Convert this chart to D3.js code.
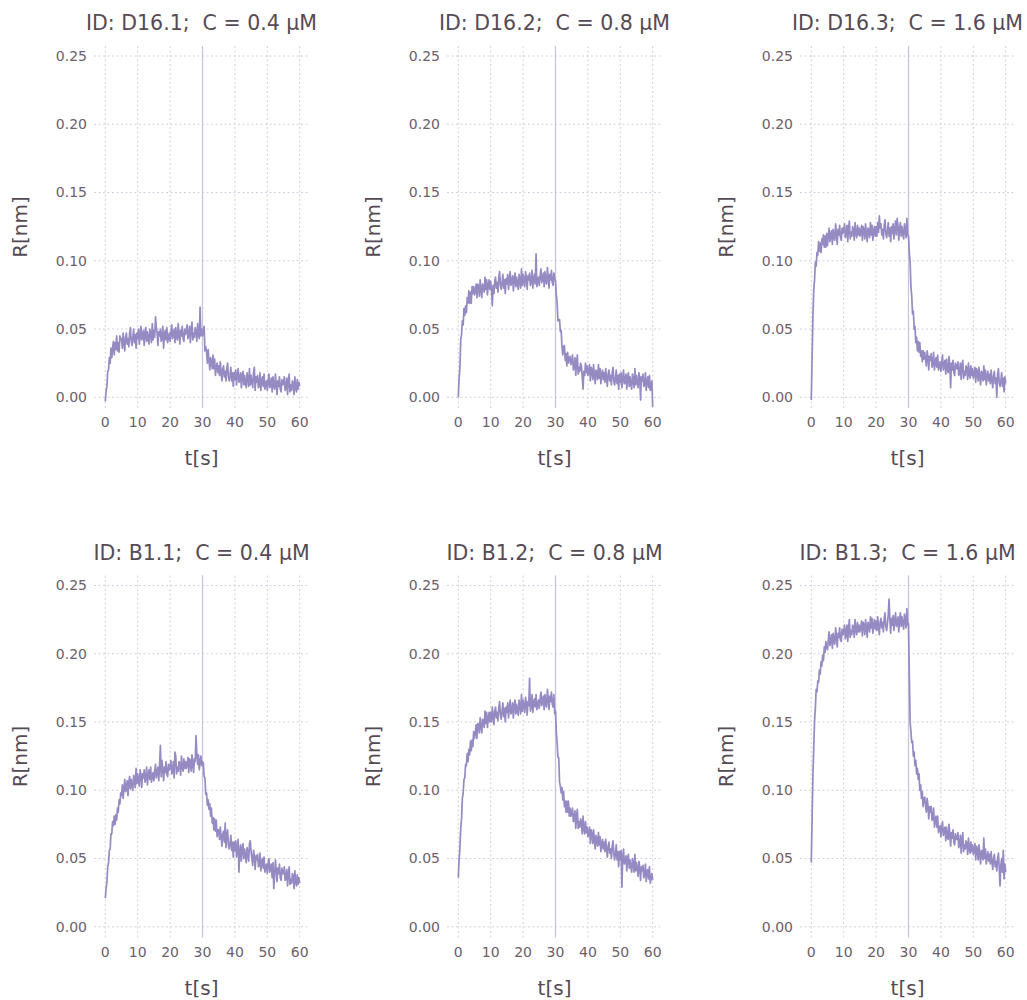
<!DOCTYPE html>
<html>
<head>
<meta charset="utf-8">
<script src="https://d3js.org/d3.v7.min.js"></script>
<title>binding curves</title>
<style>
  body { margin: 0; background: #fff; }
  text { font-family: "DejaVu Sans", sans-serif; }
</style>
</head>
<body>
<div id="chart"></div>
<script>
// panel labels
const ids = ["D16.1", "D16.2", "D16.3", "B1.1", "B1.2", "B1.3"];
const concs = ["0.4", "0.8", "1.6", "0.4", "0.8", "1.6"];
const xTicks = [0, 10, 20, 30, 40, 50, 60];
const yTicks = [0, 0.05, 0.10, 0.15, 0.20, 0.25];
const yTickLabels = ["0.00", "0.05", "0.10", "0.15", "0.20", "0.25"];
const switchTime = 30;

// sampling times, 0..60 s every 0.25 s
const time = d3.range(0, 60.001, 0.25);

// response in 1e-3 nm (one row = 5 s)
const rD161 = [
  -3, 5, 8, 19, 20, 29, 25, 36, 29, 36, 41, 31, 40, 35, 45, 34, 40, 33, 45, 42,
  43, 36, 47, 40, 34, 44, 47, 39, 43, 37, 47, 51, 41, 38, 44, 50, 40, 46, 36, 47,
  43, 50, 39, 46, 52, 42, 44, 49, 38, 47, 51, 41, 48, 43, 39, 50, 46, 40, 54, 42,
  49, 44, 59, 51, 47, 38, 48, 45, 50, 41, 43, 52, 36, 46, 49, 42, 51, 40, 44, 47,
  41, 48, 53, 43, 46, 50, 40, 51, 44, 42, 54, 47, 39, 49, 45, 52, 43, 41, 50, 46,
  48, 53, 43, 45, 52, 40, 50, 55, 42, 47, 44, 51, 49, 41, 54, 46, 43, 66, 45, 50,
  45, 49, 52, 34, 37, 33, 25, 35, 27, 20, 29, 26, 21, 31, 21, 28, 16, 22, 25, 18,
  23, 16, 26, 18, 12, 21, 23, 15, 19, 12, 21, 25, 15, 12, 16, 22, 12, 18, 8, 18,
  13, 20, 9, 16, 21, 11, 13, 18, 7, 16, 19, 9, 16, 11, 7, 18, 14, 8, 21, 9,
  16, 11, 7, 18, 22, 5, 15, 11, 16, 7, 9, 18, 5, 12, 15, 8, 17, 6, 9, 12,
  5, 12, 17, 7, 10, 14, 4, 15, 8, 6, 17, 10, 2, 12, 8, 15, 6, 4, 13, 9,
  10, 15, 5, 7, 14, 2, 12, 17, 4, 9, 5, 12, 10, 2, 15, 7, 4, 13, 6, 11,
  8
];
const rD162 = [
  0, 14, 22, 42, 46, 56, 53, 65, 60, 67, 62, 73, 69, 78, 69, 77, 69, 81, 76, 81,
  75, 78, 83, 73, 83, 81, 74, 86, 79, 73, 83, 81, 77, 88, 79, 86, 75, 82, 86, 79,
  85, 78, 67, 82, 76, 85, 88, 80, 84, 77, 88, 92, 82, 79, 84, 90, 80, 86, 76, 87,
  83, 90, 79, 86, 92, 82, 84, 89, 78, 87, 91, 81, 88, 83, 79, 90, 86, 80, 94, 82,
  90, 85, 81, 92, 88, 79, 89, 86, 91, 82, 84, 93, 80, 87, 90, 83, 105, 81, 85, 88,
  82, 89, 94, 84, 87, 91, 81, 92, 85, 83, 95, 88, 80, 90, 86, 93, 84, 82, 91, 87,
  85, 75, 69, 56, 57, 57, 48, 49, 37, 31, 37, 38, 27, 32, 23, 33, 25, 28, 30, 24,
  26, 31, 20, 22, 29, 16, 26, 31, 17, 22, 19, 25, 23, 15, 6, 19, 16, 25, 18, 23,
  16, 19, 24, 12, 22, 20, 13, 24, 16, 10, 20, 18, 13, 24, 14, 21, 10, 16, 20, 13,
  18, 11, 21, 14, 8, 17, 20, 12, 16, 9, 18, 22, 12, 9, 14, 20, 10, 16, 6, 17,
  11, 18, 7, 14, 20, 10, 12, 17, 6, 15, 18, 8, 15, 10, 6, 17, 13, 7, 21, 9,
  16, 11, 7, 18, 14, -2, 15, 12, 17, 8, 9, 18, 5, 12, 15, 7, 16, 5, 9, 12,
  -7
];
const rD163 = [
  -2, 30, 59, 78, 86, 99, 96, 106, 104, 114, 107, 113, 106, 116, 112, 119, 110, 118, 110, 120,
  111, 119, 124, 114, 118, 122, 112, 123, 117, 115, 127, 120, 112, 123, 119, 126, 117, 115, 124, 120,
  122, 127, 117, 119, 126, 114, 124, 129, 116, 121, 118, 125, 123, 115, 128, 120, 117, 126, 119, 124,
  118, 121, 126, 115, 125, 123, 116, 127, 120, 114, 124, 122, 117, 128, 119, 126, 115, 121, 125, 118,
  125, 118, 128, 121, 133, 124, 127, 119, 123, 116, 126, 130, 120, 117, 122, 128, 118, 124, 114, 125,
  120, 127, 116, 123, 129, 119, 131, 126, 115, 124, 128, 118, 125, 120, 116, 127, 123, 117, 131, 119,
  118, 106, 99, 81, 74, 61, 63, 50, 52, 40, 44, 34, 41, 33, 40, 30, 34, 26, 34, 28,
  33, 28, 23, 34, 30, 20, 30, 27, 32, 22, 24, 33, 20, 26, 29, 22, 31, 20, 23, 26,
  19, 26, 31, 20, 23, 27, 17, 28, 20, 18, 30, 23, 7, 25, 20, 27, 18, 16, 25, 21,
  21, 26, 16, 18, 25, 13, 23, 27, 14, 19, 16, 23, 21, 13, 25, 17, 14, 23, 16, 21,
  14, 17, 22, 11, 21, 19, 12, 22, 15, 9, 19, 17, 12, 23, 13, 20, 9, 15, 19, 12,
  17, 10, 20, 13, 7, 16, 19, 10, 14, 0, 17, 21, 11, 8, 12, 18, 8, 14, 4, 15,
  10
];
const rB11 = [
  21, 28, 33, 44, 47, 56, 57, 68, 68, 77, 74, 81, 75, 82, 78, 87, 84, 93, 90, 98,
  96, 104, 94, 101, 108, 99, 101, 107, 96, 106, 110, 101, 108, 104, 100, 111, 108, 102, 116, 105,
  112, 107, 103, 115, 111, 102, 112, 109, 115, 106, 108, 117, 104, 111, 115, 108, 117, 106, 110, 113,
  107, 114, 119, 109, 113, 117, 107, 118, 133, 110, 122, 115, 107, 117, 113, 121, 112, 110, 119, 115,
  117, 122, 112, 114, 121, 109, 128, 125, 112, 117, 114, 121, 119, 111, 125, 117, 114, 123, 116, 121,
  116, 119, 124, 113, 123, 121, 114, 126, 119, 113, 123, 121, 140, 127, 119, 126, 115, 121, 125, 118,
  121, 120, 110, 109, 97, 98, 89, 93, 86, 90, 81, 87, 76, 80, 71, 79, 70, 78, 66, 71,
  71, 64, 73, 66, 59, 68, 70, 62, 76, 58, 67, 71, 60, 57, 61, 67, 56, 62, 51, 62,
  56, 63, 51, 58, 64, 40, 55, 60, 48, 57, 61, 50, 57, 52, 47, 58, 54, 48, 61, 63,
  55, 50, 45, 56, 52, 42, 52, 49, 53, 44, 45, 54, 41, 47, 50, 43, 51, 40, 44, 46,
  39, 46, 50, 40, 43, 46, 36, 47, 28, 37, 49, 42, 33, 43, 39, 46, 36, 34, 43, 39,
  39, 44, 34, 35, 42, 30, 39, 44, 31, 35, 32, 39, 37, 28, 41, 33, 30, 38, 31, 36,
  32
];
const rB12 = [
  36, 49, 58, 72, 79, 94, 98, 108, 109, 119, 118, 127, 121, 130, 126, 136, 129, 137, 132, 143,
  138, 142, 148, 138, 149, 148, 142, 153, 147, 142, 152, 151, 146, 158, 149, 157, 146, 152, 157, 150,
  157, 150, 161, 154, 148, 158, 161, 153, 157, 151, 161, 165, 155, 152, 158, 164, 154, 160, 150, 161,
  157, 164, 153, 160, 166, 156, 158, 164, 153, 162, 166, 156, 163, 158, 155, 166, 162, 156, 170, 158,
  166, 161, 157, 168, 164, 155, 165, 162, 182, 158, 161, 170, 157, 164, 167, 161, 170, 159, 163, 166,
  160, 167, 172, 162, 165, 169, 159, 170, 163, 161, 174, 167, 159, 169, 165, 172, 163, 161, 170, 156,
  158, 143, 135, 124, 124, 106, 103, 98, 102, 93, 99, 88, 92, 84, 92, 84, 92, 81, 87, 81,
  83, 87, 77, 78, 85, 72, 81, 86, 72, 77, 73, 79, 77, 68, 81, 72, 68, 77, 69, 73,
  66, 68, 73, 61, 71, 68, 61, 71, 64, 57, 67, 64, 59, 69, 60, 66, 55, 60, 64, 57,
  62, 55, 64, 57, 51, 59, 62, 54, 57, 50, 59, 63, 53, 49, 54, 60, 49, 55, 44, 55,
  49, 56, 29, 51, 57, 46, 48, 52, 41, 50, 53, 43, 49, 44, 40, 50, 46, 40, 53, 41,
  47, 42, 37, 48, 44, 34, 44, 41, 45, 36, 38, 46, 33, 40, 42, 35, 44, 32, 36, 39,
  34
];
const rB13 = [
  47, 80, 111, 131, 151, 160, 174, 172, 180, 179, 188, 185, 194, 191, 199, 195, 205, 201, 209, 205,
  203, 210, 216, 206, 209, 214, 204, 215, 209, 207, 219, 213, 205, 215, 212, 219, 210, 209, 218, 214,
  216, 221, 211, 214, 221, 209, 219, 225, 212, 217, 214, 221, 220, 212, 225, 217, 214, 223, 216, 221,
  216, 219, 224, 213, 223, 221, 214, 225, 219, 212, 223, 221, 216, 227, 219, 226, 215, 221, 225, 218,
  224, 217, 227, 220, 214, 223, 226, 219, 223, 216, 226, 230, 220, 217, 222, 229, 240, 225, 215, 226,
  221, 228, 217, 224, 230, 220, 222, 227, 216, 225, 230, 220, 227, 222, 218, 229, 225, 219, 233, 221,
  222, 185, 150, 143, 135, 136, 125, 128, 118, 122, 112, 116, 108, 112, 100, 104, 94, 99, 88, 94,
  95, 89, 84, 94, 89, 79, 88, 84, 88, 78, 79, 87, 73, 79, 81, 73, 81, 69, 72, 74,
  66, 73, 77, 67, 70, 73, 63, 73, 66, 64, 75, 68, 59, 69, 65, 71, 62, 60, 68, 64,
  64, 69, 58, 60, 67, 54, 64, 69, 55, 60, 57, 63, 61, 53, 65, 57, 54, 62, 55, 60,
  53, 56, 61, 49, 59, 57, 49, 60, 53, 46, 56, 54, 49, 65, 50, 57, 46, 51, 55, 48,
  53, 46, 55, 48, 42, 50, 53, 44, 48, 41, 50, 54, 43, 30, 45, 50, 40, 56, 35, 46,
  40
];
const series = [rD161, rD162, rD163, rB11, rB12, rB13];

const width = 1027;
const height = 1000;
const colStep = 353;
const rowStep = 529.5;

const gridColor = "#d0d0e0";
const majorColor = "#564a55";
const minorColor = "#6c606b";
const lineColor = "#968ac3";

const svg = d3.select("#chart").append("svg")
  .attr("width", width)
  .attr("height", height);

// same scales for every panel, panels are shifted with a transform
const x = d3.scaleLinear().domain([0, 60]).range([105.3, 299.7]);
const y = d3.scaleLinear().domain([0, 0.25]).range([397.3, 56]);
const plotLeft = 94, plotRight = 309, plotTop = 46, plotBottom = 408;

const line = d3.line()
  .x((d, i) => x(time[i]))
  .y(d => y(d / 1000));

series.forEach((vals, k) => {
  const col = k % 3;
  const row = Math.floor(k / 3);
  const g = svg.append("g")
    .attr("transform", `translate(${col * colStep}, ${row * rowStep})`);

  // grid
  g.selectAll(".hgrid")
    .data(yTicks)
    .join("line")
    .attr("x1", plotLeft).attr("x2", plotRight)
    .attr("y1", d => y(d)).attr("y2", d => y(d))
    .attr("stroke", gridColor)
    .attr("stroke-width", 1)
    .attr("stroke-dasharray", "2,2.5");

  g.selectAll(".vgrid")
    .data(xTicks)
    .join("line")
    .attr("y1", plotTop).attr("y2", plotBottom)
    .attr("x1", d => x(d)).attr("x2", d => x(d))
    .attr("stroke", gridColor)
    .attr("stroke-width", 1)
    .attr("stroke-dasharray", "2,2.5");

  // y tick labels
  g.selectAll(".ylab")
    .data(yTicks)
    .join("text")
    .attr("x", 87)
    .attr("y", d => y(d))
    .attr("dy", "0.35em")
    .attr("text-anchor", "end")
    .attr("font-size", 14)
    .attr("fill", minorColor)
    .text((d, i) => yTickLabels[i]);

  // x tick labels
  g.selectAll(".xlab")
    .data(xTicks)
    .join("text")
    .attr("x", d => x(d))
    .attr("y", 427)
    .attr("text-anchor", "middle")
    .attr("font-size", 14)
    .attr("fill", minorColor)
    .text(d => d);

  // switch from association to dissociation
  g.append("line")
    .attr("x1", x(switchTime)).attr("x2", x(switchTime))
    .attr("y1", plotTop).attr("y2", plotBottom)
    .attr("stroke", "#c9c5de")
    .attr("stroke-width", 1.3);

  g.append("path")
    .datum(vals)
    .attr("d", line)
    .attr("fill", "none")
    .attr("stroke", lineColor)
    .attr("stroke-width", 1.7)
    .attr("stroke-linejoin", "round");

  // titles
  g.append("text")
    .attr("x", (plotLeft + plotRight) / 2)
    .attr("y", 30)
    .attr("text-anchor", "middle")
    .attr("font-size", 20.5)
    .attr("fill", majorColor)
    .style("white-space", "pre")
    .text(`ID: ${ids[k]};  C = ${concs[k]} μM`);

  g.append("text")
    .attr("x", (plotLeft + plotRight) / 2)
    .attr("y", 465)
    .attr("text-anchor", "middle")
    .attr("font-size", 20)
    .attr("fill", majorColor)
    .text("t[s]");

  g.append("text")
    .attr("transform", "translate(27,227) rotate(-90)")
    .attr("text-anchor", "middle")
    .attr("font-size", 20)
    .attr("fill", majorColor)
    .text("R[nm]");
});
</script>
</body>
</html>
